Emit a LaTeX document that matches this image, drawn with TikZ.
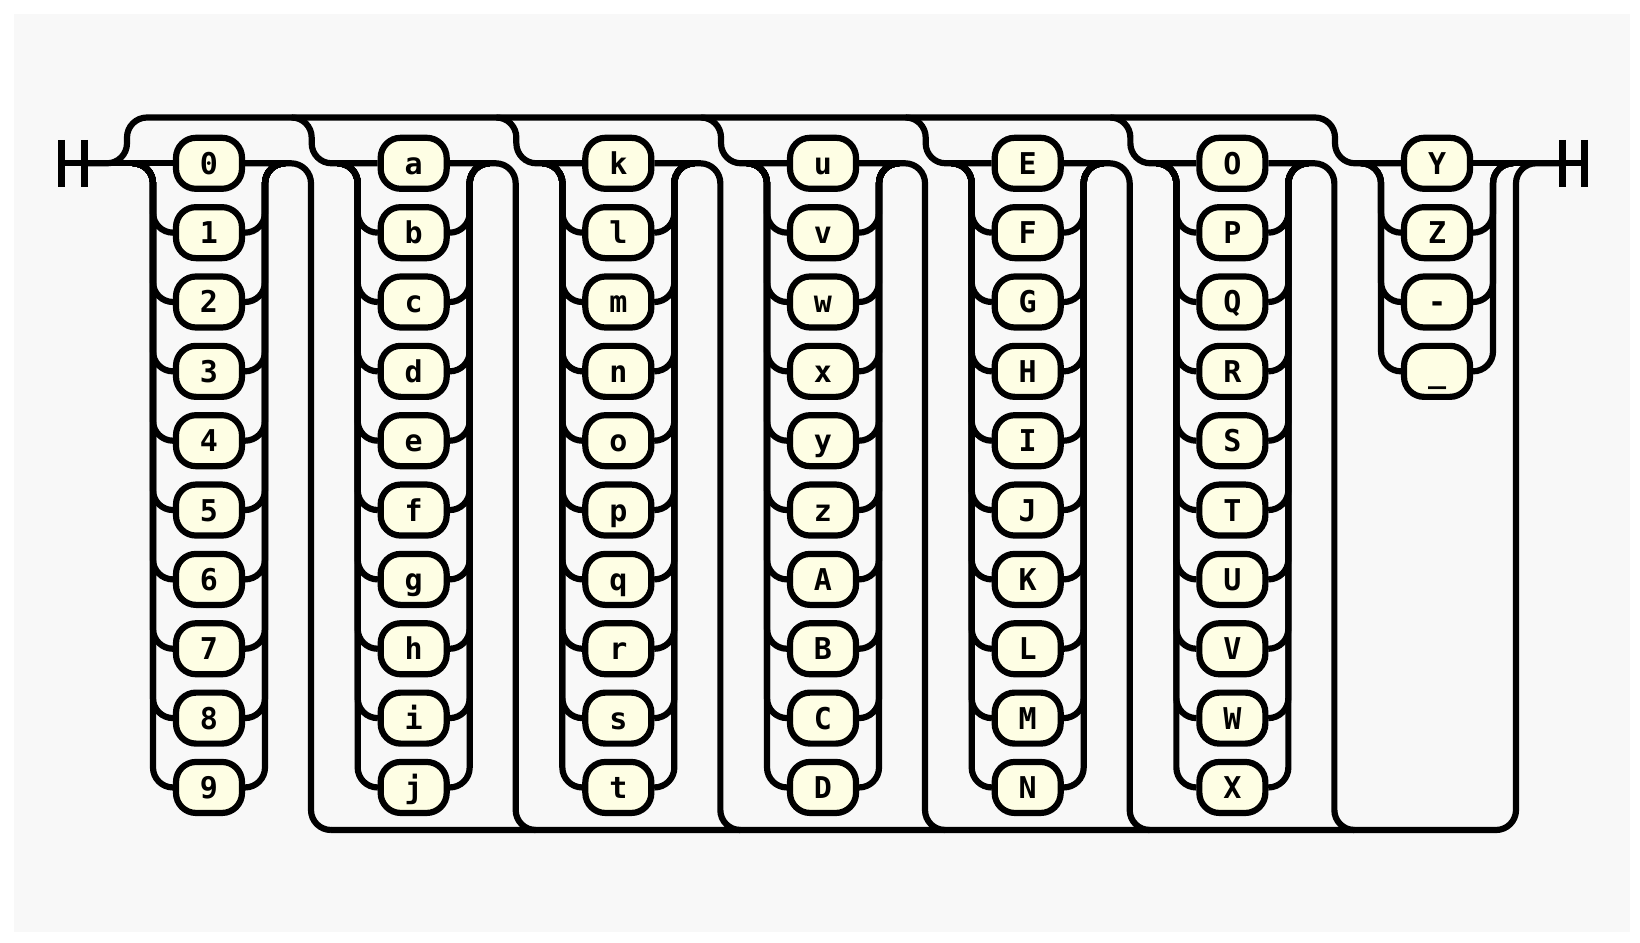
\documentclass[tikz,border=0pt]{standalone}
\usepackage{fontspec}
\setmonofont{DejaVu Sans Mono}
\definecolor{bgcol}{HTML}{F8F8F8}
\definecolor{termfill}{HTML}{FEFEE4}
\begin{document}
\begin{tikzpicture}[x=1pt,y=-1pt,
  rail/.style={line width=6.2pt,rounded corners=20pt},
  bar/.style={line width=7pt},
  term/.style={draw,line width=6.2pt,fill=termfill,rounded corners=20pt,
    minimum width=66pt,minimum height=51pt,inner sep=0pt,
    text height=21.9pt,text depth=0pt,
    font=\ttfamily\bfseries\fontsize{30}{30}\selectfont}]%
% railroad: one character of 0-9 a-z A-Z - _
\def\rowy{163.3}
\useasboundingbox (0,0) rectangle (1640,942);
\fill[white] (0,0) rectangle (1640,942);
\fill[bgcol] (14,14) rectangle (1630,932);
\coordinate (startA) at (61.7,\rowy);
\coordinate (startB) at (84,\rowy);
\coordinate (endA) at (1562.5,\rowy);
\coordinate (endB) at (1584,\rowy);
\draw[bar] (startA) ++(0,-23.5) -- ++(0,47);
\draw[bar] (startB) ++(0,-23.5) -- ++(0,47);
\draw[bar] (endA) ++(0,-23.5) -- ++(0,47);
\draw[bar] (endB) ++(0,-23.5) -- ++(0,47);
\foreach \i/\labels in {0/{0,1,2,3,4,5,6,7,8,9},
    1/{a,b,c,d,e,f,g,h,i,j}, 2/{k,l,m,n,o,p,q,r,s,t},
    3/{u,v,w,x,y,z,A,B,C,D}, 4/{E,F,G,H,I,J,K,L,M,N},
    5/{O,P,Q,R,S,T,U,V,W,X}, 6/{Y,Z,-,\_}}{
  \pgfmathsetmacro\cx{209+\i*204.67}
  \foreach \t [count=\j from 0] in \labels {
    \pgfmathsetmacro\cy{\rowy+\j*69.35}
    \node[term] (n\i-\j) at (\cx,\cy) {\t};
    \ifnum\j>0
      \draw[rail] (\cx-76,\rowy) -- (\cx-56,\rowy) -- (\cx-56,\cy) -- (n\i-\j.west);
      \draw[rail] (n\i-\j.east) -- (\cx+56,\cy) -- (\cx+56,\rowy) -- (\cx+76,\rowy);
    \fi
  }
  % entry from the upper line, exit to the lower line
  \ifnum\i>0 \ifnum\i<6
    \draw[rail] (\cx-122,117.5) -- (\cx-102,117.5) -- (\cx-102,\rowy) -- (n\i-0.west);
  \fi\fi
  \ifnum\i<6
    \draw[rail] (n\i-0.east) -- (\cx+102,\rowy) -- (\cx+102,830) -- (\cx+122,830);
  \fi
}
\draw[rail] (startA) -- (n0-0.west);
\draw[rail] (startB) -- (127,\rowy) -- (127,117.5) -- (1335,117.5) -- (1335,\rowy) -- (n6-0.west);
\draw[rail] (331,830) -- (1516,830) -- (1516,\rowy) -- (endA);
\draw[rail] (n6-0.east) -- (endB);
\end{tikzpicture}
\end{document}
